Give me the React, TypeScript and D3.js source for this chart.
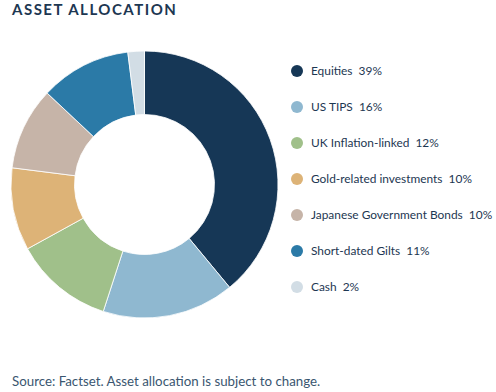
import React, { useRef, useEffect } from "react";
import * as d3 from "d3";

// asset allocation data
const categories = [
  "Equities",
  "US TIPS",
  "UK Inflation-linked",
  "Gold-related investments",
  "Japanese Government Bonds",
  "Short-dated Gilts",
  "Cash",
];
const values = [39, 16, 12, 10, 10, 11, 2];
const colors = ["#163756", "#8fb8d0", "#a0c08a", "#ddb377", "#c6b4a8", "#2b7aa7", "#d2dde5"];

const App = () => {
  const svgRef = useRef<SVGSVGElement>(null);

  useEffect(() => {
    const svg = d3.select(svgRef.current);
    svg.selectAll("*").remove();

    const font = "Lato, 'Open Sans', sans-serif";
    const data = categories.map((c, i) => ({ name: c, value: values[i], color: colors[i] }));

    // title
    svg
      .append("text")
      .attr("x", 12)
      .attr("y", 15)
      .attr("font-family", font)
      .attr("font-weight", 700)
      .attr("font-size", 15)
      .attr("letter-spacing", 1.5)
      .attr("fill", "#1d3752")
      .text("ASSET ALLOCATION");

    // donut
    const cx = 144.5;
    const cy = 184.5;
    const pie = d3.pie<any>().sort(null).value((d) => d.value);
    const arc = d3.arc<any>().innerRadius(70).outerRadius(133.5);

    const g = svg.append("g").attr("transform", "translate(" + cx + "," + cy + ")");
    g.selectAll("path")
      .data(pie(data))
      .enter()
      .append("path")
      .attr("d", arc)
      .attr("fill", (d) => d.data.color)
      .attr("stroke", "#fff")
      .attr("stroke-width", 0.8);

    // legend
    const legendY = d3.scalePoint<string>().domain(categories).range([71, 287]);
    const legend = svg
      .append("g")
      .selectAll("g")
      .data(data)
      .enter()
      .append("g")
      .attr("transform", (d) => "translate(0," + legendY(d.name) + ")");

    legend
      .append("circle")
      .attr("cx", 297)
      .attr("cy", 0)
      .attr("r", 6)
      .attr("fill", (d) => d.color);

    legend
      .append("text")
      .attr("x", 311)
      .attr("y", 4)
      .attr("font-family", font)
      .attr("font-size", 11.9)
      .attr("fill", "#1d3752")
      .text((d) => d.name + "\u00a0\u00a0" + d.value + "%");

    // source note
    svg
      .append("text")
      .attr("x", 12)
      .attr("y", 386)
      .attr("font-family", font)
      .attr("font-size", 13.3)
      .attr("fill", "#3a5670")
      .text("Source: Factset. Asset allocation is subject to change.");
  }, []);

  return (
    <svg
      ref={svgRef}
      width={496}
      height={392}
      style={{ position: "absolute", left: 0, top: 0, background: "#fff" }}
    />
  );
};

export default App;
